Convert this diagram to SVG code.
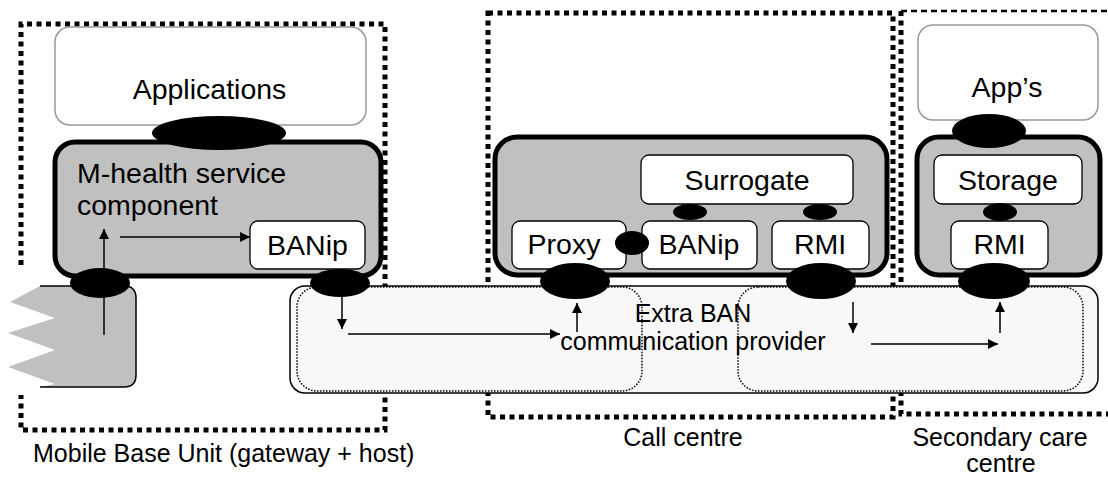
<svg xmlns="http://www.w3.org/2000/svg" width="1108" height="479" viewBox="0 0 1108 479">
<defs>
<style>
text{font-family:"Liberation Sans",Arial,sans-serif;fill:#000}
.lbl{font-size:28.5px}
.cap{font-size:25px}
.mid{text-anchor:middle}
.zone{fill:none;stroke:#000;stroke-width:5;stroke-dasharray:5,4.5}
.zone2{fill:none;stroke:#000;stroke-width:2.5;stroke-dasharray:6,4}
.app{fill:#fff;stroke:#999;stroke-width:1.5}
.comp{fill:#c0c0c0;stroke:#000;stroke-width:5}
.sub{fill:#fff;stroke:#000;stroke-width:1.3}
.ifc{fill:#000}
.ban{fill:#f8f8f8;stroke:#000;stroke-width:1.5}
.dot{fill:none;stroke:#000;stroke-width:1.5;stroke-dasharray:1.5,1.5}
.arr{stroke:#000;stroke-width:1.5;fill:none;marker-end:url(#ah)}
</style>
<marker id="ah" viewBox="0 0 10 10" refX="10" refY="5" markerWidth="11" markerHeight="10" markerUnits="userSpaceOnUse" orient="auto"><path d="M0,0 L10,5 L0,10 z" fill="#000"/></marker>
</defs>
<rect width="1108" height="479" fill="#fff"/>

<g id="zones">
<path class="zone" d="M21,265 V24 H385 V430 H21 V395"/>
<rect class="zone" x="488" y="13" width="405" height="404"/>
<path class="zone2" d="M901,11 H1112"/>
<path class="zone" d="M901,11 V414 H1112"/>
</g>

<g id="ban-provider">
<rect class="ban" x="290" y="286" width="808" height="107" rx="15"/>
<rect class="dot" x="297" y="287" width="345" height="104" rx="20"/>
<rect class="dot" x="738" y="287" width="345" height="104" rx="20"/>
<text class="cap mid" x="693" y="322">Extra BAN</text>
<text class="cap mid" x="693" y="350">communication provider</text>
</g>

<g id="sensor">
<path d="M40,286 H124 Q136,286 136,298 V375 Q136,387 124,387 H40 L55,384 L8,367 L55,350 L8,333 L55,318 L10,302 Z" fill="#c0c0c0"/>
<path d="M40,286 H124 Q136,286 136,298 V375 Q136,387 124,387 H40" fill="none" stroke="#000" stroke-width="1.5"/>
</g>

<g id="applications">
<rect class="app" x="55" y="27" width="311" height="98" rx="15"/>
<text class="lbl mid" x="209.5" y="99">Applications</text>
</g>

<g id="mhealth">
<rect class="comp" x="55" y="142" width="326" height="134" rx="20"/>
<text class="lbl" x="77" y="183">M-health service</text>
<text class="lbl" x="77" y="215">component</text>
</g>

<g id="banip-mbu">
<rect class="sub" x="250" y="221" width="115" height="48" rx="8"/>
<text class="lbl mid" x="307.5" y="255">BANip</text>
</g>

<g id="callcentre">
<rect class="comp" x="495" y="137" width="392" height="138" rx="22"/>
</g>

<g id="surrogate">
<rect class="sub" x="641" y="155" width="212" height="49" rx="8"/>
<text class="lbl mid" x="747" y="190">Surrogate</text>
</g>

<g id="proxy">
<rect class="sub" x="512" y="221" width="114" height="48" rx="8"/>
<text class="lbl mid" x="564" y="254">Proxy</text>
</g>

<g id="banip-cc">
<rect class="sub" x="642" y="221" width="115" height="48" rx="8"/>
<text class="lbl mid" x="699" y="254">BANip</text>
</g>

<g id="rmi-cc">
<rect class="sub" x="772" y="221" width="97" height="48" rx="8"/>
<text class="lbl mid" x="820" y="254">RMI</text>
</g>

<g id="apps2">
<rect class="app" x="918" y="25" width="180" height="95" rx="15"/>
<text class="lbl mid" x="1007" y="97">App’s</text>
</g>

<g id="secondary">
<rect class="comp" x="917" y="137" width="183" height="138" rx="22"/>
</g>

<g id="storage">
<rect class="sub" x="934" y="155" width="148" height="49" rx="8"/>
<text class="lbl mid" x="1008" y="190">Storage</text>
</g>

<g id="rmi-sc">
<rect class="sub" x="951" y="221" width="97" height="48" rx="8"/>
<text class="lbl mid" x="999.5" y="254">RMI</text>
</g>

<g id="interfaces">
<ellipse class="ifc" cx="219" cy="133" rx="67" ry="17"/>
<ellipse class="ifc" cx="100" cy="283" rx="30" ry="15"/>
<ellipse class="ifc" cx="340" cy="283" rx="30" ry="14"/>
<ellipse class="ifc" cx="690" cy="212" rx="17" ry="8"/>
<ellipse class="ifc" cx="820" cy="212" rx="17" ry="8"/>
<ellipse class="ifc" cx="632" cy="243" rx="17" ry="12"/>
<ellipse class="ifc" cx="575" cy="281" rx="35" ry="18"/>
<ellipse class="ifc" cx="821" cy="281" rx="35" ry="18"/>
<ellipse class="ifc" cx="989" cy="131" rx="37" ry="17"/>
<ellipse class="ifc" cx="1000" cy="212" rx="17" ry="9"/>
<ellipse class="ifc" cx="994" cy="281" rx="36" ry="18"/>
</g>

<g id="connectors">
<line class="arr" x1="104" y1="335" x2="104" y2="229"/>
<line class="arr" x1="120" y1="237" x2="250" y2="237"/>
<line class="arr" x1="342" y1="297" x2="342" y2="329"/>
<line class="arr" x1="348" y1="334" x2="560" y2="334"/>
<line class="arr" x1="577" y1="332" x2="577" y2="303"/>
<line class="arr" x1="853" y1="302" x2="853" y2="333"/>
<line class="arr" x1="871" y1="344" x2="998" y2="344"/>
<line class="arr" x1="1000" y1="333" x2="1000" y2="302"/>
</g>

<g id="captions">
<text class="cap" x="33" y="462">Mobile Base Unit (gateway + host)</text>
<text class="cap mid" x="683" y="446">Call centre</text>
<text class="cap mid" x="1000" y="446">Secondary care</text>
<text class="cap mid" x="1001" y="472">centre</text>
</g>
</svg>
